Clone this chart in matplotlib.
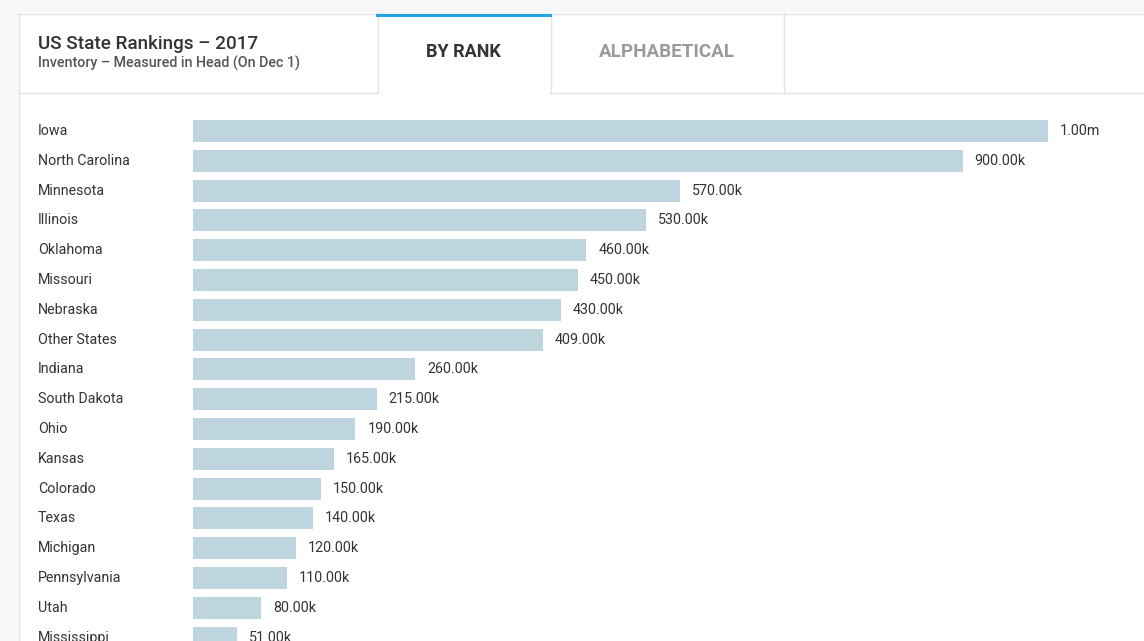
import matplotlib
matplotlib.use("Agg")
import matplotlib.pyplot as plt
from matplotlib.patches import Rectangle
from matplotlib.lines import Line2D
import matplotlib.transforms as mtransforms

plt.rcParams['font.family'] = ['Roboto', 'DejaVu Sans']

states = ["Iowa", "North Carolina", "Minnesota", "Illinois", "Oklahoma", "Missouri",
          "Nebraska", "Other States", "Indiana", "South Dakota", "Ohio", "Kansas",
          "Colorado", "Texas", "Michigan", "Pennsylvania", "Utah", "Mississippi"]
values = [1000000, 900000, 570000, 530000, 460000, 450000, 430000, 409000, 260000,
          215000, 190000, 165000, 150000, 140000, 120000, 110000, 80000, 51000]
labels = ["1.00m", "900.00k", "570.00k", "530.00k", "460.00k", "450.00k", "430.00k",
          "409.00k", "260.00k", "215.00k", "190.00k", "165.00k", "150.00k", "140.00k",
          "120.00k", "110.00k", "80.00k", "51.00k"]

W, H = 1144, 641
fig = plt.figure(figsize=(W / 100, H / 100), dpi=100)
fig.patch.set_facecolor("#f7f7f7")

def fx(x):
    return x / W

def fy(y):
    return 1 - y / H

# white panel
fig.patches.append(Rectangle((fx(18), 0), 1 - fx(18), fy(13), transform=fig.transFigure,
                             facecolor="white", edgecolor="none", zorder=-5))
border = "#e3e3e3"
def hline(x0, x1, y, color=border, lw=1.0):
    fig.add_artist(Line2D([fx(x0), fx(x1)], [fy(y), fy(y)], transform=fig.transFigure,
                          color=color, lw=lw, zorder=2))
def vline(x, y0, y1, color=border, lw=1.0):
    fig.add_artist(Line2D([fx(x), fx(x)], [fy(y0), fy(y1)], transform=fig.transFigure,
                          color=color, lw=lw, zorder=2))

hline(18, W, 13.5)
vline(18.5, 13, H)
# header bottom line (not under active tab)
hline(18, 377, 92.5)
hline(550, W, 92.5)
vline(377.5, 13, 93)
vline(550.5, 13, 93)
vline(783.5, 13, 93)
# active tab top accent
hline(377, 550, 14.5, color="#1ea7e4", lw=2.2)

fig.text(fx(38), fy(44), "US State Rankings \u2013 2017", fontsize=13.6, color="#333333",
         va="center", ha="left", fontweight="medium")
fig.text(fx(38), fy(63), "Inventory \u2013 Measured in Head (On Dec 1)", fontsize=10.25,
         color="#555555", va="center", ha="left", fontweight="medium")
fig.text(fx(463.5), fy(52), "BY RANK", fontsize=13, color="#333333", va="center",
         ha="center", fontweight="bold")
fig.text(fx(666.5), fy(52), "ALPHABETICAL", fontsize=13.5, color="#9a9a9a", va="center",
         ha="center", fontweight="bold")

# bar axes
top_px, bot_px = 93, H
ax = fig.add_axes([fx(0), 0, 1, fy(top_px)])
ax.set_zorder(5)
ax.set_facecolor("none")
spacing = 29.8
c0 = 131
scale = 855 / 1e6
ax.set_xlim(-193 / scale, (W - 193) / scale)
ax.set_ylim((bot_px - c0) / spacing, (top_px - c0) / spacing)
ax.axis("off")

ypos = list(range(len(states)))
ax.barh(ypos, values, height=22 / spacing, color="#bed4df", edgecolor="none", zorder=1)

trans = mtransforms.blended_transform_factory(fig.transFigure, ax.transData)
for i, (s, v, lab) in enumerate(zip(states, values, labels)):
    ax.text(fx(38), i, s, transform=trans, fontsize=10.3, color="#333333",
            va="center", ha="left")
    ax.annotate(lab, (v, i), xytext=(8.6, 0), textcoords="offset points",
                fontsize=10.3, color="#333333", va="center", ha="left")

fig.savefig("out.png", dpi=100, facecolor=fig.get_facecolor())
